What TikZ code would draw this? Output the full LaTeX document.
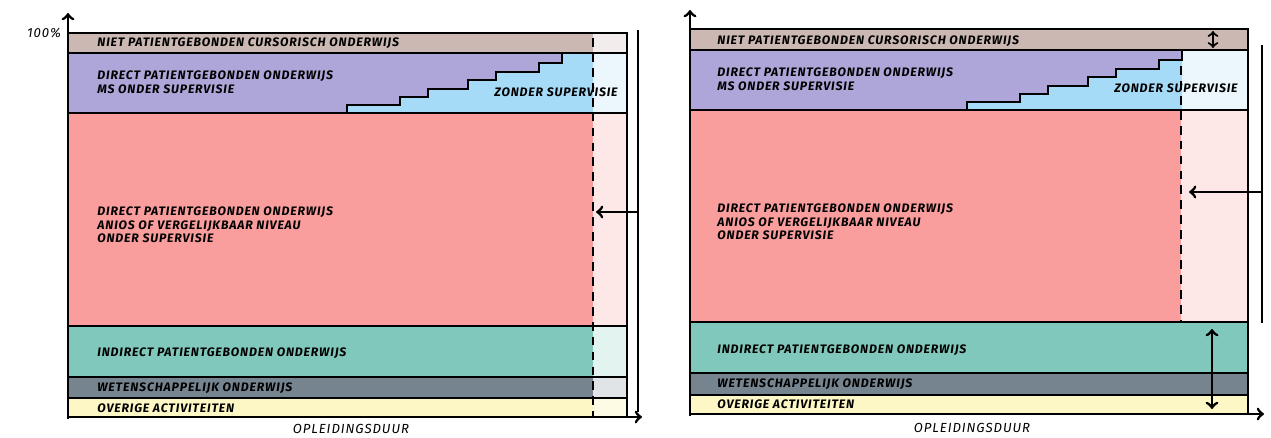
\documentclass[tikz,border=0pt]{standalone}
\usepackage{fontspec}
\newfontfamily\schetsfont[LetterSpace=7]{Fira Sans}
\definecolor{cursbruin}{HTML}{CBB8B2}
\definecolor{mspaars}{HTML}{AEA6D9}
\definecolor{zonderblauw}{HTML}{A6DBF7}
\definecolor{aniosrood}{HTML}{F99D9D}
\definecolor{indirectgroen}{HTML}{80C8BB}
\definecolor{wetgrijs}{HTML}{76848F}
\definecolor{overiggeel}{HTML}{FDF7C5}
\begin{document}
\begin{tikzpicture}[x=0.02cm,y=-0.02cm,
  rand/.style={line width=1.3pt},
  as/.style={line width=1.6pt,->},
  stippel/.style={line width=1.6pt,dash pattern=on 5pt off 3.5pt},
  bandtekst/.style={font=\schetsfont\bfseries\itshape\fontsize{7}{7.8}\selectfont,
    anchor=west,inner sep=0pt,align=left},
  astekst/.style={font=\schetsfont\itshape\fontsize{7.5}{8}\selectfont,inner sep=0pt}]
  \useasboundingbox (0,0) rectangle (1271,437);

  % linker figuur: banden
  \fill[cursbruin] (68,33) rectangle (593,53);
  \fill[cursbruin!25] (593,33) rectangle (627,53);
  \fill[mspaars] (68,53) rectangle (593,113);
  \fill[zonderblauw!22] (593,53) rectangle (627,113);
  \fill[aniosrood] (68,113) rectangle (593,326);
  \fill[aniosrood!25] (593,113) rectangle (627,326);
  \fill[indirectgroen] (68,326) rectangle (593,377);
  \fill[indirectgroen!22] (593,326) rectangle (627,377);
  \fill[wetgrijs] (68,377) rectangle (593,398);
  \fill[wetgrijs!22] (593,377) rectangle (627,398);
  \fill[overiggeel] (68,398) rectangle (593,417);
  \fill[overiggeel!45] (593,398) rectangle (627,417);
  % trap
  \fill[zonderblauw] (347,113) |- (400,105) |- (428,97) |- (468,89) |- (496,80)
    |- (539,72) |- (562,63) -- (562,53) -- (593,53) -- (593,113) -- cycle;
  \draw[rand] (347,113) |- (400,105) |- (428,97) |- (468,89) |- (496,80)
    |- (539,72) |- (562,63) -- (562,53);
  \draw[rand] (68,33) rectangle (627,417);
  \foreach \y in {53,113,326,377,398} {
    \draw[rand] (68,\y) -- (627,\y);
  }
  \draw[stippel] (593,38) -- (593,417);
  \draw[line width=1.6pt] (638,30) -- (638,412);
  % assen
  \coordinate (l-oorsprong) at (68,417);
  \coordinate (l-ytop) at (68,13);
  \coordinate (l-xeind) at (642,417);
  \draw[as] (68,419) -- (l-ytop);
  \draw[as] (l-oorsprong) -- (l-xeind);
  \coordinate (l-pijlstart) at (638,212);
  \coordinate (l-pijleind) at (596,212);
  \draw[as] (l-pijlstart) -- (l-pijleind);
  % teksten
  \node[astekst] (l-honderd) at (44,33) {100\%};
  \node[bandtekst] (l-curs) at (97,43) {NIET PATIENTGEBONDEN CURSORISCH ONDERWIJS};
  \node[bandtekst] (l-ms) at (97,82) {DIRECT PATIENTGEBONDEN ONDERWIJS\\MS ONDER SUPERVISIE};
  \node[bandtekst,anchor=center] (l-zonder) at (556,92) {ZONDER SUPERVISIE};
  \node[bandtekst] (l-anios) at (97,225) {DIRECT PATIENTGEBONDEN ONDERWIJS\\ANIOS OF VERGELIJKBAAR NIVEAU\\ONDER SUPERVISIE};
  \node[bandtekst] (l-indirect) at (97,353) {INDIRECT PATIENTGEBONDEN ONDERWIJS};
  \node[bandtekst] (l-wet) at (97,388) {WETENSCHAPPELIJK ONDERWIJS};
  \node[bandtekst] (l-overig) at (97,408) {OVERIGE ACTIVITEITEN};
  \node[astekst] (l-duur) at (351,429) {OPLEIDINGSDUUR};

  % rechter figuur: banden
  \fill[cursbruin] (690,29) rectangle (1248,50);
  \fill[mspaars] (690,50) rectangle (1182,110);
  \fill[zonderblauw!22] (1182,50) rectangle (1248,110);
  \fill[aniosrood] (690,110) rectangle (1181,322);
  \fill[aniosrood!25] (1181,110) rectangle (1248,322);
  \fill[indirectgroen] (690,322) rectangle (1248,373);
  \fill[wetgrijs] (690,373) rectangle (1248,395);
  \fill[overiggeel] (690,395) rectangle (1248,414);
  % trap
  \fill[zonderblauw] (967,110) |- (1020,102) |- (1048,94) |- (1088,86) |- (1116,77)
    |- (1159,69) |- (1182,60) -- (1182,50) -- (1182,110) -- cycle;
  \draw[rand] (967,110) |- (1020,102) |- (1048,94) |- (1088,86) |- (1116,77)
    |- (1159,69) |- (1182,60) -- (1182,50);
  \draw[rand] (690,29) rectangle (1248,414);
  \foreach \y in {50,110,322,373,395} {
    \draw[rand] (690,\y) -- (1248,\y);
  }
  \draw[stippel] (1181,66) -- (1181,322);
  \draw[line width=1.6pt] (1262,45) -- (1262,323);
  % assen
  \coordinate (r-oorsprong) at (690,414);
  \coordinate (r-ytop) at (690,10);
  \coordinate (r-xeind) at (1264,414);
  \draw[as] (690,416) -- (r-ytop);
  \draw[as] (r-oorsprong) -- (r-xeind);
  \coordinate (r-pijlstart) at (1262,192);
  \coordinate (r-pijleind) at (1189,192);
  \draw[as] (r-pijlstart) -- (r-pijleind);
  \coordinate (r-cursboven) at (1213,31);
  \coordinate (r-cursonder) at (1213,48);
  \draw[line width=1.2pt,<->] (r-cursboven) -- (r-cursonder);
  \coordinate (r-restboven) at (1212,329);
  \coordinate (r-restonder) at (1212,409);
  \draw[as,<->] (r-restboven) -- (r-restonder);
  % teksten
  \node[bandtekst] (r-curs) at (717,41) {NIET PATIENTGEBONDEN CURSORISCH ONDERWIJS};
  \node[bandtekst] (r-ms) at (717,79) {DIRECT PATIENTGEBONDEN ONDERWIJS\\MS ONDER SUPERVISIE};
  \node[bandtekst,anchor=center] (r-zonder) at (1176,88) {ZONDER SUPERVISIE};
  \node[bandtekst] (r-anios) at (717,222) {DIRECT PATIENTGEBONDEN ONDERWIJS\\ANIOS OF VERGELIJKBAAR NIVEAU\\ONDER SUPERVISIE};
  \node[bandtekst] (r-indirect) at (717,350) {INDIRECT PATIENTGEBONDEN ONDERWIJS};
  \node[bandtekst] (r-wet) at (717,384) {WETENSCHAPPELIJK ONDERWIJS};
  \node[bandtekst] (r-overig) at (717,404) {OVERIGE ACTIVITEITEN};
  \node[astekst] (r-duur) at (972,428) {OPLEIDINGSDUUR};
\end{tikzpicture}
\end{document}
